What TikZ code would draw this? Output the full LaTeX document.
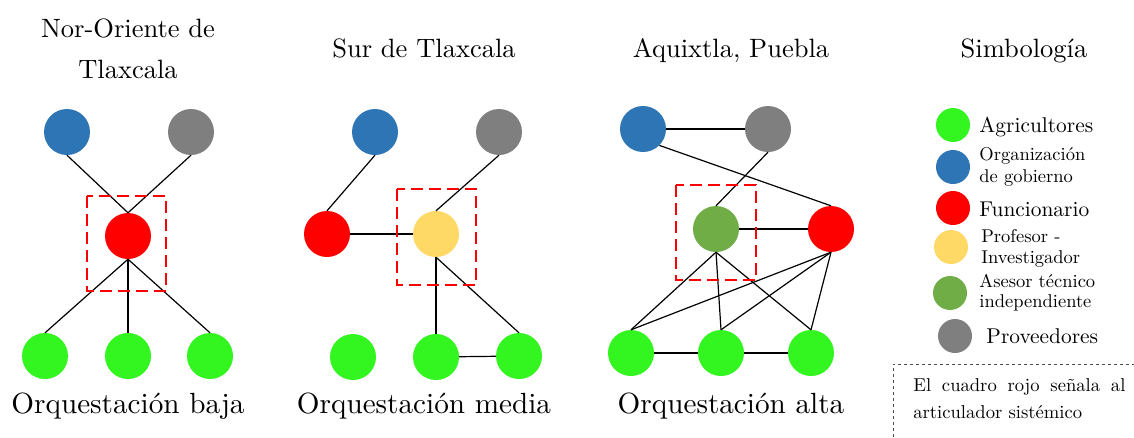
\documentclass[tikz,border=0pt]{standalone}
\definecolor{cblue}{HTML}{2E75B6}
\definecolor{cgray}{HTML}{7F7F7F}
\definecolor{cred}{HTML}{FF0000}
\definecolor{cgreen}{HTML}{33F51F}
\definecolor{cyellow}{HTML}{FFD966}
\definecolor{cdgreen}{HTML}{70AD47}
\tikzset{
  nd/.style={circle, minimum size=46pt, inner sep=0pt, draw=none},
  lg/.style={circle, minimum size=34pt, inner sep=0pt, draw=none},
  conn/.style={line width=1.2pt, black},
  redbox/.style={draw=cred, line width=2.5pt, dash pattern=on 12pt off 6pt},
  txt/.style={font=\fontsize{10}{12}\selectfont, inner sep=0pt, transform shape},
  ttl/.style={txt, scale=2.65, anchor=base},
  orq/.style={txt, scale=2.92, anchor=base},
  lgbig/.style={txt, scale=2.14, anchor=base west},
  lgsmall/.style={txt, scale=1.85, anchor=base west},
  notetxt/.style={txt, scale=1.86, anchor=base west},
}
\begin{document}
\begin{tikzpicture}[x=1pt,y=-1pt]
\useasboundingbox (0,0) rectangle (1134,437);

% ---------- Network 1 ----------
\node[ttl] (t1a) at (128,37) {Nor-Oriente de};
\node[ttl] (t1b) at (128,78) {Tlaxcala};
\node[nd, fill=cblue] (b1) at (67,132) {};
\node[nd, fill=cgray] (p1) at (191,132) {};
\node[nd, fill=cred] (r1) at (128,236) {};
\node[nd, fill=cgreen] (a1) at (45,356) {};
\node[nd, fill=cgreen] (a2) at (128,356) {};
\node[nd, fill=cgreen] (a3) at (210,356) {};
\draw[conn] (b1.south) -- (r1.north);
\draw[conn] (p1.south) -- (r1.north);
\draw[conn] (r1.south) -- (a1.north);
\draw[conn] (r1.south) -- (a2.north);
\draw[conn] (r1.south) -- (a3.north);
\draw[redbox] (87,196) rectangle (166,291);
\node[orq] (o1) at (128,413) {Orquestación baja};

% ---------- Network 2 ----------
\node[ttl] (t2) at (424,57) {Sur de Tlaxcala};
\node[nd, fill=cblue] (b2) at (375,132) {};
\node[nd, fill=cgray] (p2) at (499,132) {};
\node[nd, fill=cred] (r2) at (327,234) {};
\node[nd, fill=cyellow] (y2) at (436,234) {};
\node[nd, fill=cgreen] (c1) at (353,357) {};
\node[nd, fill=cgreen] (c2) at (436,357) {};
\node[nd, fill=cgreen] (c3) at (519,356) {};
\draw[conn] (b2.south) -- (r2.north);
\draw[conn] (p2.south) -- (y2.north);
\draw[conn] (r2) -- (y2);
\draw[conn] (y2.south) -- (c2.north);
\draw[conn] (y2.south) -- (c3.north);
\draw[conn] (c2) -- (c3);
\draw[redbox] (397,189) rectangle (476,285);
\node[orq] (o2) at (424,413) {Orquestación media};

% ---------- Network 3 ----------
\node[ttl] (t3) at (731,57) {Aquixtla, Puebla};
\node[nd, fill=cblue] (b3) at (643,129) {};
\node[nd, fill=cgray] (p3) at (768,129) {};
\node[nd, fill=cdgreen] (s3) at (716,229) {};
\node[nd, fill=cred] (r3) at (831,229) {};
\node[nd, fill=cgreen] (d1) at (631,353) {};
\node[nd, fill=cgreen] (d2) at (721,353) {};
\node[nd, fill=cgreen] (d3) at (811,353) {};
\draw[conn] (b3) -- (p3);
\draw[conn] (b3.south east) -- (r3.north);
\draw[conn] (p3.south) -- (s3.north);
\draw[conn] (s3) -- (r3);
\draw[conn] (s3.south) -- (d1.north);
\draw[conn] (s3.south) -- (d2.north);
\draw[conn] (s3.south) -- (d3.north);
\draw[conn] (r3.south) -- (d1.north);
\draw[conn] (r3.south) -- (d2.north);
\draw[conn] (r3.south) -- (d3.north);
\draw[conn] (d1) -- (d2);
\draw[conn] (d2) -- (d3);
\draw[redbox] (676,185) rectangle (756,280);
\node[orq] (o3) at (731,413) {Orquestación alta};

% ---------- Legend ----------
\node[ttl] (t4) at (1024,57) {Simbología};
\node[lg, fill=cgreen] (l1) at (953,125) {};
\node[lgbig] (l1t) at (979,132) {Agricultores};
\node[lg, fill=cblue] (l2) at (953,167) {};
\node[lgsmall] (l2t) at (979,160) {Organización};
\node[lgsmall] (l2u) at (979,182) {de gobierno};
\node[lg, fill=cred] (l3) at (953,208) {};
\node[lgbig] (l3t) at (979,216) {Funcionario};
\node[lg, fill=cyellow] (l4) at (951,247) {};
\node[lgsmall] (l4t) at (981,242) {Profesor -};
\node[lgsmall] (l4u) at (981,263) {Investigador};
\node[lg, fill=cdgreen] (l5) at (950,293) {};
\node[lgsmall] (l5t) at (979,287) {Asesor técnico};
\node[lgsmall] (l5u) at (979,307) {independiente};
\node[lg, fill=cgray] (l6) at (955,336) {};
\node[lgbig] (l6t) at (986,343) {Proveedores};

% ---------- Note box ----------
\draw[draw=black!70, line width=0.9pt, dash pattern=on 3pt off 3pt] (893,437) -- (893,364) -- (1134,364);
\node[notetxt] (n1) at (913,391) {\makebox[114pt][s]{El cuadro rojo señala al}};
\node[notetxt] (n2) at (913,418) {articulador sistémico};
\end{tikzpicture}
\end{document}
